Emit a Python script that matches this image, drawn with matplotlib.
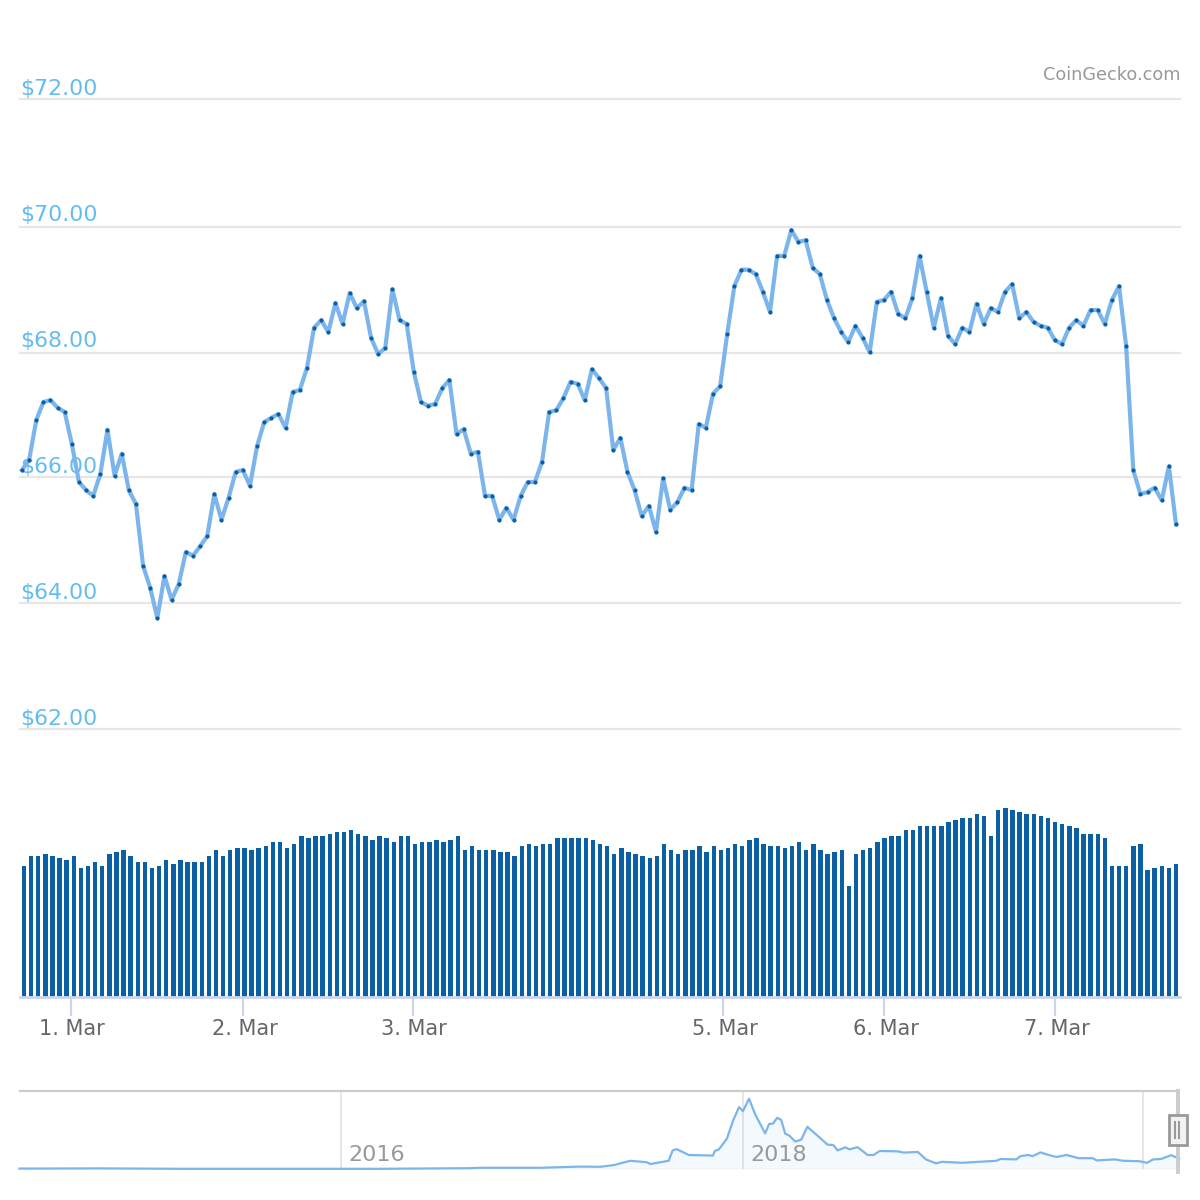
import numpy as np
import matplotlib
matplotlib.use('Agg')
import matplotlib.pyplot as plt
from matplotlib.patches import Rectangle
from matplotlib.lines import Line2D
from matplotlib.transforms import ScaledTranslation

# hourly price, USD
price = [66.11, 66.27, 66.90, 67.19, 67.22, 67.10, 67.03, 66.52, 65.92, 65.79, 65.70, 66.05, 66.75, 66.02, 66.37,
         65.79, 65.57, 64.59, 64.24, 63.76, 64.43, 64.05, 64.30, 64.81, 64.75, 64.90, 65.06, 65.73, 65.32, 65.67,
         66.08, 66.11, 65.86, 66.49, 66.87, 66.94, 67.00, 66.78, 67.35, 67.38, 67.73, 68.37, 68.49, 68.30, 68.76,
         68.43, 68.92, 68.68, 68.79, 68.21, 67.95, 68.05, 68.98, 68.49, 68.43, 67.67, 67.19, 67.13, 67.16, 67.41,
         67.54, 66.68, 66.76, 66.37, 66.40, 65.70, 65.70, 65.32, 65.51, 65.32, 65.70, 65.92, 65.92, 66.24, 67.03,
         67.06, 67.25, 67.51, 67.48, 67.22, 67.71, 67.57, 67.41, 66.43, 66.62, 66.08, 65.79, 65.38, 65.54, 65.13,
         65.98, 65.48, 65.60, 65.83, 65.79, 66.84, 66.78, 67.32, 67.44, 68.27, 69.03, 69.29, 69.29, 69.22, 68.94,
         68.62, 69.51, 69.51, 69.92, 69.73, 69.76, 69.32, 69.22, 68.81, 68.52, 68.30, 68.14, 68.40, 68.21, 67.98,
         68.78, 68.81, 68.94, 68.59, 68.52, 68.84, 69.51, 68.94, 68.37, 68.84, 68.24, 68.11, 68.37, 68.30, 68.75,
         68.43, 68.68, 68.62, 68.94, 69.06, 68.52, 68.62, 68.46, 68.40, 68.37, 68.17, 68.11, 68.37, 68.49, 68.40,
         68.65, 68.65, 68.43, 68.81, 69.03, 68.08, 66.11, 65.73, 65.76, 65.83, 65.63, 66.17, 65.25]

# volume, arbitrary units
volume = [131, 141, 141, 143, 141, 139, 137, 141, 129, 131, 135, 131, 143, 145, 147,
          141, 135, 135, 129, 131, 137, 133, 137, 135, 135, 135, 141, 147, 141, 147,
          149, 149, 147, 149, 151, 155, 155, 149, 153, 161, 159, 161, 161, 163, 165,
          165, 167, 163, 161, 157, 161, 159, 155, 161, 161, 153, 155, 155, 157, 155,
          157, 161, 147, 151, 147, 147, 147, 145, 145, 141, 151, 153, 151, 153, 153,
          159, 159, 159, 159, 159, 157, 153, 151, 143, 149, 145, 143, 141, 139, 141,
          153, 147, 143, 147, 147, 151, 145, 151, 147, 149, 153, 151, 157, 159, 153,
          151, 151, 149, 151, 155, 147, 153, 147, 143, 145, 147, 111, 143, 147, 149,
          155, 159, 161, 161, 167, 167, 171, 171, 171, 171, 175, 177, 179, 179, 183,
          181, 161, 187, 189, 187, 185, 183, 183, 181, 179, 175, 173, 171, 169, 163,
          163, 163, 159, 131, 131, 131, 151, 153, 127, 129, 131, 129, 133]

day_ticks = [6.6, 30.8, 54.7, 98.3, 121, 145]
day_labels = ['1. Mar', '2. Mar', '3. Mar', '5. Mar', '6. Mar', '7. Mar']
price_ticks = [62, 64, 66, 68, 70, 72]

# whole history for the navigator
nav_year = [2014.40, 2014.80, 2015.20, 2015.70, 2016.20, 2016.64, 2016.69, 2016.99, 2017.19, 2017.29, 2017.36,
            2017.40, 2017.44, 2017.52, 2017.54, 2017.63, 2017.65, 2017.67, 2017.73, 2017.85, 2017.86, 2017.88,
            2017.92, 2017.95, 2017.98, 2018.00, 2018.03, 2018.06, 2018.11, 2018.13, 2018.15, 2018.17, 2018.19,
            2018.21, 2018.23, 2018.26, 2018.29, 2018.32, 2018.38, 2018.42, 2018.45, 2018.47, 2018.51, 2018.53,
            2018.57, 2018.62, 2018.65, 2018.68, 2018.77, 2018.80, 2018.87, 2018.91, 2018.96, 2018.99, 2019.09,
            2019.26, 2019.28, 2019.36, 2019.38, 2019.42, 2019.44, 2019.48, 2019.52, 2019.56, 2019.61, 2019.67,
            2019.74, 2019.76, 2019.85, 2019.89, 2019.97, 2020.01, 2020.04, 2020.08, 2020.13, 2020.17]
nav_price = [2, 3, 1, 1, 1, 4, 6, 6, 12, 11, 20,
             31, 41, 34, 25, 41, 93, 99, 70, 67, 90, 98,
             152, 240, 309, 289, 351, 274, 178, 225, 227, 256, 245,
             176, 167, 137, 147, 211, 158, 122, 119, 93, 108, 98,
             109, 70, 70, 90, 88, 82, 85, 48, 28, 36, 31,
             41, 50, 48, 64, 70, 64, 83, 70, 60, 70, 54,
             54, 43, 48, 41, 39, 31, 48, 50, 69, 52]
nav_grid_years = [2016, 2018, 2019.99]
nav_labels = {2016: '2016', 2018: '2018'}

W = 1200
fig = plt.figure(figsize=(12, 12), dpi=100, facecolor='white')


def px_axes(x0, y0, x1, y1):
    # y counted from the top of the picture, like in the reference
    ax = fig.add_axes([x0 / W, 1 - y1 / W, (x1 - x0) / W, (y1 - y0) / W])
    ax.patch.set_alpha(0)
    for s in ax.spines.values():
        s.set_visible(False)
    return ax


n = len(price)
idx = np.arange(n)
step = (1176 - 22) / (n - 1)
bar_step = (1176 - 24) / (n - 1)

# price panel
ax = px_axes(20, 99, 1180, 729)
ax.set_xlim((20 - 22) / step, (1180 - 22) / step)
ax.set_ylim(62, 72)
ax.set_xticks([])
ax.set_yticks([])
for v in price_ticks:
    # the original snaps the 68 and 70 lines 2 px low
    nudge = 2 / 63 if v in (68, 70) else 0
    ax.axhline(v - nudge, color='#e6e6e6', lw=1.6, clip_on=False, zorder=1)
    ax.annotate(f'${v:.2f}', (0, v), xycoords=ax.get_yaxis_transform(), xytext=(0.3, -0.2),
                textcoords='offset points', color='#62bcf0', fontsize=15.8, va='bottom', ha='left', zorder=2)
ax.plot(idx, price, color='#7cb5ec', lw=3.0, solid_joinstyle='round', zorder=3, clip_on=False)
ax.plot(idx, price, ls='none', marker='o', ms=3.0, mfc='#0a5fa5', mec='#0a5fa5', mew=0, zorder=4, clip_on=False)
fig.text(1180 / W, 1 - 74.5 / W, 'CoinGecko.com', color='#999999', fontsize=12.7, ha='right', va='center')

# volume panel
vax = px_axes(20, 729, 1180, 997)
vax.set_xlim((20 - 24) / bar_step, (1180 - 24) / bar_step)
vax.set_ylim(0, 268)
vax.bar(idx, volume, width=0.62, color='#0a5fa5', linewidth=0)
vax.set_yticks([])
vax.spines['bottom'].set_visible(True)
vax.spines['bottom'].set_color('#ccd6eb')
vax.spines['bottom'].set_linewidth(2)
vax.set_xticks(day_ticks)
vax.set_xticklabels(day_labels, color='#666666', fontsize=15)
vax.tick_params(axis='x', length=14, width=1.6, color='#ccd6eb', pad=1.5)
shift = ScaledTranslation(1.0 / 72, 0, fig.dpi_scale_trans)
for t in vax.get_xticklabels():
    t.set_transform(t.get_transform() + shift)

# navigator
nax = px_axes(20, 1091, 1178, 1169)
nax.set_xlim(2014.403, 2020.164)
nax.set_ylim(0, 358 * 78 / 71.7)
nax.set_yticks([])
nax.set_xticks([])
for yr in nav_grid_years:
    nax.axvline(yr, color='#e6e6e6', lw=1.4, zorder=1)
    if yr in nav_labels:
        nax.annotate(nav_labels[yr], (yr, 0), xycoords=nax.get_xaxis_transform(), xytext=(5.5, 3),
                     textcoords='offset points', color='#999999', fontsize=16, va='bottom', ha='left', zorder=5)
nax.fill_between(nav_year, nav_price, 0, color='#7cb5ec', alpha=0.08, lw=0, zorder=2)
nax.plot(nav_year, nav_price, color='#7cb5ec', lw=1.6, zorder=3, clip_on=False)
nax.axhline(0, color='#7cb5ec', lw=0.8, alpha=0.8, zorder=2)

# navigator outline and the right handle
fig.add_artist(Line2D([20 / W, 1178 / W], [1 - 1091 / W, 1 - 1091 / W], color='#cccccc', lw=1.6))
fig.add_artist(Line2D([1178 / W, 1178 / W], [1 - 1091 / W, 1 - 1172 / W], color='#cccccc', lw=2.8))
fig.add_artist(Rectangle((1169 / W, 1 - 1145 / W), 18 / W, 30 / W, transform=fig.transFigure,
                         facecolor='#f2f2f2', edgecolor='#999999', lw=2, zorder=5))
for lx in (1175, 1179):
    fig.add_artist(Line2D([lx / W, lx / W], [1 - 1122 / W, 1 - 1138 / W], color='#999999', lw=1.5, zorder=6))

plt.savefig('out.png', dpi=100)
